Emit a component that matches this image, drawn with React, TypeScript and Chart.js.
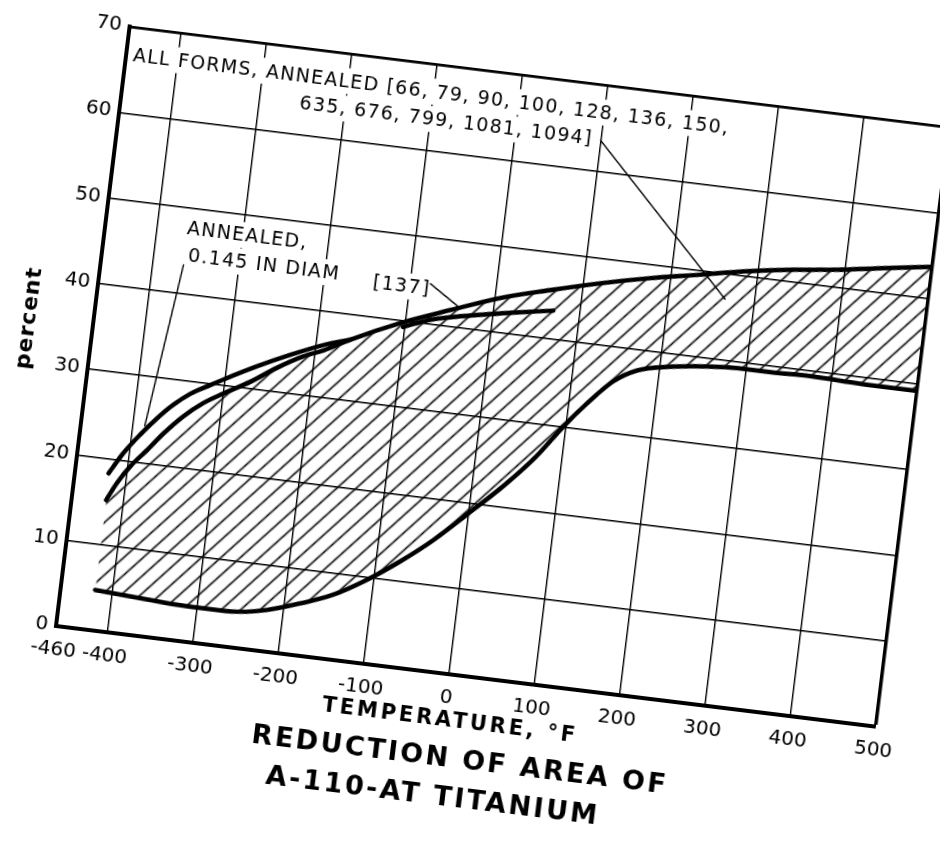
import React, { useEffect, useRef } from "react";
import { Chart, registerables } from "chart.js";

Chart.register(...registerables);

// ---------- axes ----------
const xTickValues = [-460, -400, -300, -200, -100, 0, 100, 200, 300, 400, 500];
const yTickValues = [0, 10, 20, 30, 40, 50, 60, 70];

// ---------- hatched band: all forms, annealed ----------
const bandLowerTemp = [-420, -360, -300, -260, -220, -180, -145, -108, -72, -37, 0, 37, 70, 97, 121, 148, 174, 212, 250, 290, 330, 370, 410, 450, 500];
const bandLowerPct = [4.7, 4.35, 4.1, 4.15, 4.8, 6.1, 7.5, 9.7, 12.3, 15.2, 18.8, 22.5, 26.3, 30.1, 33.1, 36.0, 37.6, 38.5, 39.0, 39.3, 39.3, 39.4, 39.3, 39.2, 39.2];
const bandUpperTemp = [-420, -410, -397, -380, -363, -343, -322, -300, -271, -242, -213, -190, -161, -106, -50, 6, 62, 119, 176, 233, 283, 340, 390, 440, 500];
const bandUpperPct = [15.2, 17.3, 19.4, 21.5, 23.7, 25.9, 27.7, 29.1, 30.8, 32.8, 34.5, 35.5, 37.1, 39.7, 41.9, 44.0, 45.6, 47.1, 48.4, 49.5, 50.5, 51.4, 52.0, 52.8, 53.7];

// ---------- annealed, 0.145 in diam ----------
const diamTemp = [-421, -407, -390, -373, -356, -338, -316, -302, -265, -228, -191, -161];
const diamPct = [18.3, 20.8, 23.2, 25.3, 27.1, 28.6, 29.9, 30.7, 32.7, 34.5, 36.1, 37.1];

// ---------- [137] ----------
const ref137Temp = [-102, -72, -34, 23, 69];
const ref137Pct = [39.3, 40.5, 41.4, 42.5, 43.3];

// ---------- annotations ----------
const noteTexts = [
  "ALL FORMS, ANNEALED [66, 79, 90, 100, 128, 136, 150,",
  "635, 676, 799, 1081, 1094]",
  "ANNEALED,",
  "0.145 IN DIAM",
  "[137]",
];
const noteTemp = [-452, -253, -365, -360, -143];
const notePct = [66.8, 63.6, 47.6, 44.5, 44.05];

const leaderFromTemp = [99, -77, -364];
const leaderFromPct = [63.6, 44.7, 43.4];
const leaderToTemp = [266, -41, -386];
const leaderToPct = [47.0, 42.4, 24.2];

const xTitle = "TEMPERATURE, °F";
const xTitleAt = [8, -5.45];
const yTitle = "percent";
const yTitleAt = [-534, 35.05];
const titleLines = ["REDUCTION OF AREA OF", "A-110-AT TITANIUM"];
const titleTemp = [25, -1.5];
const titlePct = [-9.82, -14.32];

// ---------- geometry ----------
const FONT = "'DejaVu Sans', 'Noto Sans', sans-serif";
const CW = 1080;
const CH = 1000;
const OX = 70;
const OY = 40;
const PLOT_LEFT = 126;
const PLOT_BOTTOM = 666;
const ROTATION = 7;

const toPoints = (xs: number[], ys: number[]) => xs.map((x, i) => ({ x, y: ys[i] }));

function makeHatch(): any {
  const tile = document.createElement("canvas");
  tile.width = 16;
  tile.height = 13;
  const c = tile.getContext("2d")!;
  c.strokeStyle = "#000";
  c.lineWidth = 1.6;
  c.beginPath();
  c.moveTo(0, 6.5);
  c.lineTo(16, 6.5);
  c.stroke();
  const pat = c.createPattern(tile, "repeat")!;
  pat.setTransform(new DOMMatrix().rotate(-49));
  return pat;
}

const annotationPlugin = {
  id: "annotations",
  afterDatasetsDraw(chart: any) {
    const { ctx } = chart;
    const xs = chart.scales.x;
    const ys = chart.scales.y;
    const px = (t: number) => xs.getPixelForValue(t);
    const py = (p: number) => ys.getPixelForValue(p);
    ctx.save();
    ctx.font = `19px ${FONT}`;
    (ctx as any).letterSpacing = "1.3px";
    ctx.textBaseline = "middle";
    ctx.textAlign = "left";
    ctx.fillStyle = "#fff";
    noteTexts.forEach((s, i) => {
      const w = ctx.measureText(s).width;
      ctx.fillRect(px(noteTemp[i]) - 4, py(notePct[i]) - 13, w + 8, 26);
    });
    ctx.fillStyle = "#000";
    noteTexts.forEach((s, i) => {
      ctx.fillText(s, px(noteTemp[i]), py(notePct[i]) + 1);
    });
    ctx.strokeStyle = "#000";
    ctx.lineWidth = 1.4;
    leaderFromTemp.forEach((t, i) => {
      ctx.beginPath();
      ctx.moveTo(px(t), py(leaderFromPct[i]));
      ctx.lineTo(px(leaderToTemp[i]), py(leaderToPct[i]));
      ctx.stroke();
    });
    ctx.restore();
  },
  afterDraw(chart: any) {
    const { ctx } = chart;
    const xs = chart.scales.x;
    const ys = chart.scales.y;
    const px = (t: number) => xs.getPixelForValue(t);
    const py = (p: number) => ys.getPixelForValue(p);
    ctx.save();
    ctx.fillStyle = "#000";
    ctx.textAlign = "center";
    ctx.textBaseline = "middle";
    // x axis title
    ctx.font = `bold 21px ${FONT}`;
    (ctx as any).letterSpacing = "3px";
    ctx.fillText(xTitle, px(xTitleAt[0]), py(xTitleAt[1]));
    // chart title
    ctx.font = `bold 27px ${FONT}`;
    (ctx as any).letterSpacing = "2.5px";
    titleLines.forEach((s, i) => ctx.fillText(s, px(titleTemp[i]), py(titlePct[i])));
    // y axis title
    ctx.font = `bold 22px ${FONT}`;
    (ctx as any).letterSpacing = "1px";
    ctx.translate(px(yTitleAt[0]), py(yTitleAt[1]));
    ctx.rotate(-Math.PI / 2);
    ctx.fillText(yTitle, 0, 0);
    ctx.restore();
  },
};

export default function App() {
  const ref = useRef<HTMLCanvasElement>(null);

  useEffect(() => {
    const canvas = ref.current;
    if (!canvas) return;
    const hatch = makeHatch();
    const lineStyle = {
      borderColor: "#000",
      borderWidth: 4.5,
      pointRadius: 0,
      cubicInterpolationMode: "monotone" as const,
      borderCapStyle: "round" as const,
    };
    const chart = new Chart(canvas, {
      type: "line",
      data: {
        datasets: [
          { label: "All forms, annealed (min)", data: toPoints(bandLowerTemp, bandLowerPct), fill: false, ...lineStyle },
          { label: "All forms, annealed (max)", data: toPoints(bandUpperTemp, bandUpperPct), fill: "-1", backgroundColor: hatch, ...lineStyle },
          { label: "Annealed, 0.145 in diam", data: toPoints(diamTemp, diamPct), fill: false, ...lineStyle },
          { label: "[137]", data: toPoints(ref137Temp, ref137Pct), fill: false, ...lineStyle },
        ],
      },
      options: {
        responsive: false,
        maintainAspectRatio: false,
        animation: false,
        devicePixelRatio: 1,
        events: [],
        layout: { padding: { left: PLOT_LEFT - 80, top: 62, right: 128, bottom: CH - PLOT_BOTTOM - 60 } },
        plugins: {
          legend: { display: false },
          title: { display: false },
          tooltip: { enabled: false },
        },
        scales: {
          x: {
            type: "linear",
            min: -460,
            max: 500,
            afterBuildTicks: (s: any) => {
              s.ticks = xTickValues.map((v) => ({ value: v }));
            },
            afterFit: (s: any) => {
              s.height = 60;
            },
            grid: {
              color: "#000",
              drawTicks: false,
              lineWidth: (c: any) => (c.tick && c.tick.value === 500 ? 3.5 : c.tick && c.tick.value === -460 ? 0 : 1.4),
            },
            border: { display: true, color: "#000", width: 4 },
            ticks: {
              color: "#000",
              font: { family: FONT, size: 20 },
              padding: 12,
              maxRotation: 0,
              autoSkip: false,
              callback: (v: any) => String(v),
            },
          },
          y: {
            type: "linear",
            min: 0,
            max: 70,
            afterBuildTicks: (s: any) => {
              s.ticks = yTickValues.map((v) => ({ value: v }));
            },
            afterFit: (s: any) => {
              s.width = 80;
            },
            grid: {
              color: "#000",
              drawTicks: false,
              lineWidth: (c: any) => (c.tick && c.tick.value === 70 ? 2.8 : c.tick && c.tick.value === 0 ? 0 : 1.4),
            },
            border: { display: true, color: "#000", width: 4 },
            ticks: {
              color: "#000",
              font: { family: FONT, size: 20 },
              padding: 8,
              autoSkip: false,
              callback: (v: any) => String(v),
            },
          },
        },
      },
      plugins: [annotationPlugin],
    } as any);
    return () => chart.destroy();
  }, []);

  return (
    <div
      style={{
        position: "fixed",
        left: 0,
        top: 0,
        width: 940,
        height: 846,
        overflow: "hidden",
        background: "#fff",
      }}
    >
      <canvas
        ref={ref}
        width={CW}
        height={CH}
        style={{
          position: "absolute",
          left: -OX,
          top: -OY,
          width: CW,
          height: CH,
          transform: `rotate(${ROTATION}deg)`,
          transformOrigin: `${PLOT_LEFT}px ${PLOT_BOTTOM}px`,
        }}
      />
    </div>
  );
}
